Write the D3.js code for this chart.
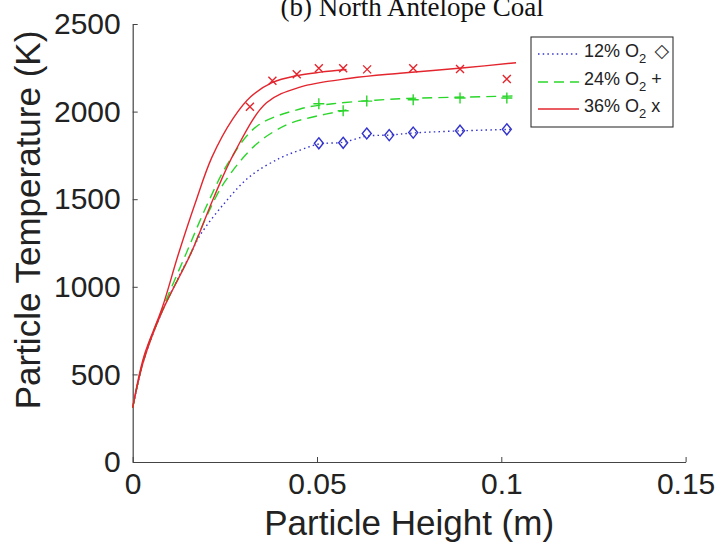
<!DOCTYPE html>
<html><head><meta charset="utf-8">
<script src="https://cdn.jsdelivr.net/npm/d3@7"></script>
<style>body{margin:0;background:#fff}svg{display:block}</style>
</head><body>
<svg id="c" width="722" height="546"></svg>
<script>
// ---- data ----
const xTicks = [0, 0.05, 0.1, 0.15];
const xTickLabels = ["0", "0.05", "0.1", "0.15"];
const yTicks = [0, 500, 1000, 1500, 2000, 2500];
const yTickLabels = ["0", "500", "1000", "1500", "2000", "2500"];

// measured points
const pts12x = [0.0505, 0.0571, 0.0635, 0.0696, 0.0761, 0.0888, 0.1015];
const pts12T = [1819, 1822, 1875, 1866, 1880, 1891, 1899];
const pts24x = [0.0505, 0.0571, 0.0635, 0.0761, 0.0888, 0.1015];
const pts24T = [2045, 2005, 2060, 2068, 2078, 2078];
const pts36x = [0.0318, 0.0379, 0.0445, 0.0505, 0.0571, 0.0636, 0.0761, 0.0888, 0.1015];
const pts36T = [2028, 2176, 2213, 2247, 2247, 2241, 2247, 2243, 2186];

// model curves
const c12x = [0, 0.003, 0.008, 0.0155, 0.0183, 0.025, 0.0318, 0.04, 0.0454, 0.0505, 0.0571, 0.0635, 0.0696, 0.0761, 0.0888, 0.1015, 0.103];
const c12T = [310, 580, 860, 1180, 1295, 1480, 1630, 1735, 1780, 1815, 1825, 1860, 1866, 1878, 1890, 1898, 1899];
const c24ax = [0, 0.003, 0.008, 0.0145, 0.02, 0.026, 0.0336, 0.0454, 0.0543, 0.0725, 0.09, 0.104];
const c24aT = [310, 590, 870, 1190, 1460, 1710, 1915, 2015, 2045, 2073, 2083, 2089];
const c24bx = [0, 0.003, 0.008, 0.0155, 0.02, 0.025, 0.0336, 0.0418, 0.048, 0.058];
const c24bT = [310, 585, 860, 1180, 1400, 1600, 1815, 1925, 1965, 2009];
const c36ax = [0, 0.003, 0.008, 0.0123, 0.017, 0.0215, 0.0272, 0.032, 0.0378, 0.0445, 0.051, 0.058];
const c36aT = [310, 600, 880, 1180, 1480, 1740, 1960, 2085, 2165, 2205, 2225, 2240];
const c36bx = [0, 0.003, 0.008, 0.016, 0.022, 0.0277, 0.0363, 0.0454, 0.059, 0.0725, 0.09, 0.104];
const c36bT = [310, 580, 860, 1200, 1510, 1770, 2050, 2140, 2190, 2219, 2250, 2279];

const legendLabels = ["12% O", "24% O", "36% O"];
const legendSymbols = ["\u25C7", "+", "x"];

// ---- drawing ----
const RED = "#e3262e", GREEN = "#2bd62b", BLUE = "#3434cc";
const svg = d3.select("#c");
const L = 132.7, R = 685.6, T = 24, B = 462;
const x = d3.scaleLinear().domain([0, 0.15]).range([L, R]);
const y = d3.scaleLinear().domain([0, 2500]).range([B, T]);

const zip = (a, b) => a.map((v, i) => [v, b[i]]);
const line = d3.line().x(d => x(d[0])).y(d => y(d[1])).curve(d3.curveCatmullRom.alpha(0.5));

// axes
const xAxis = d3.axisBottom(x).tickValues(xTicks).tickFormat((d, i) => xTickLabels[i]).tickSizeInner(-5).tickSizeOuter(0).tickPadding(11);
const yAxis = d3.axisLeft(y).tickValues(yTicks).tickFormat((d, i) => yTickLabels[i]).tickSizeInner(-5).tickSizeOuter(0).tickPadding(12);
const gx = svg.append("g").attr("transform", `translate(0,${B})`).call(xAxis);
const gy = svg.append("g").attr("transform", `translate(${L},0)`).call(yAxis);
[gx, gy].forEach(g => {
  g.select(".domain").attr("stroke", "#444").attr("stroke-width", 1.2);
  g.selectAll(".tick line").attr("stroke", "#444").attr("stroke-width", 1);
  g.selectAll(".tick text").attr("fill", "#222").style("font-family", "'Liberation Sans', Arial, sans-serif").style("font-size", "30px");
});
gx.selectAll(".tick text").attr("dy", "0.71em");

// curves
const curves = [
  {d: zip(c12x, c12T), c: BLUE, dash: "1.5,3.2"},
  {d: zip(c24ax, c24aT), c: GREEN, dash: "10,6"},
  {d: zip(c24bx, c24bT), c: GREEN, dash: "10,6"},
  {d: zip(c36ax, c36aT), c: RED, dash: null},
  {d: zip(c36bx, c36bT), c: RED, dash: null}
];
svg.append("g").selectAll("path").data(curves).join("path")
  .attr("d", d => line(d.d)).attr("fill", "none").attr("stroke", d => d.c)
  .attr("stroke-width", 1.4).attr("stroke-dasharray", d => d.dash);

// markers
const mk = svg.append("g").attr("fill", "none").attr("stroke-width", 1.4);
mk.selectAll(".dia").data(zip(pts12x, pts12T)).join("path")
  .attr("d", d => { const cx = x(d[0]), cy = y(d[1]); return `M${cx},${cy-5.5}L${cx+4.5},${cy}L${cx},${cy+5.5}L${cx-4.5},${cy}Z`; })
  .attr("stroke", BLUE);
mk.selectAll(".plus").data(zip(pts24x, pts24T)).join("path")
  .attr("d", d => { const cx = x(d[0]), cy = y(d[1]); return `M${cx-5.5},${cy}H${cx+5.5}M${cx},${cy-5.5}V${cy+5.5}`; })
  .attr("stroke", GREEN);
mk.selectAll(".cross").data(zip(pts36x, pts36T)).join("path")
  .attr("d", d => { const cx = x(d[0]), cy = y(d[1]); return `M${cx-4},${cy-4}L${cx+4},${cy+4}M${cx-4},${cy+4}L${cx+4},${cy-4}`; })
  .attr("stroke", RED);

// axis labels
svg.append("text").attr("x", (L + R) / 2).attr("y", 535).attr("text-anchor", "middle")
  .style("font-family", "'Liberation Sans', Arial, sans-serif").style("font-size", "35px").attr("fill", "#222")
  .text("Particle Height (m)");
svg.append("text").attr("transform", `translate(40,220) rotate(-90)`).attr("text-anchor", "middle")
  .style("font-family", "'Liberation Sans', Arial, sans-serif").style("font-size", "35px").attr("fill", "#222")
  .text("Particle Temperature (K)");
// title
svg.append("text").attr("x", (L + R) / 2 + 3).attr("y", 16).attr("text-anchor", "middle")
  .style("font-family", "'Liberation Serif', 'Times New Roman', serif").style("font-size", "27px").attr("fill", "#111")
  .text("(b) North Antelope Coal");

// legend
const lg = svg.append("g");
lg.append("rect").attr("x", 531).attr("y", 37).attr("width", 142).attr("height", 90)
  .attr("fill", "#fff").attr("stroke", "#333").attr("stroke-width", 1.1);
const rowsY = [54, 82, 109];
const styles = [{c: BLUE, dash: "1.5,3.2"}, {c: GREEN, dash: "10,6"}, {c: RED, dash: null}];
legendLabels.forEach((lab, i) => {
  lg.append("line").attr("x1", 538).attr("x2", 579).attr("y1", rowsY[i]).attr("y2", rowsY[i])
    .attr("stroke", styles[i].c).attr("stroke-width", 1.4).attr("stroke-dasharray", styles[i].dash);
  const t = lg.append("text").attr("x", 584).attr("y", rowsY[i] + 3)
    .style("font-family", "'Liberation Sans', Arial, sans-serif").style("font-size", "18px").attr("fill", "#222");
  t.append("tspan").text(lab);
  t.append("tspan").attr("dy", 6).style("font-size", "13px").text("2");
  t.append("tspan").attr("dy", -6).text("\u00A0" + (i === 0 ? "" : legendSymbols[i]));
  if (i === 0) {
    lg.append("text").attr("x", 669).attr("y", rowsY[i] + 3).attr("text-anchor", "end")
      .style("font-family", "'DejaVu Sans', sans-serif").style("font-size", "19px").attr("fill", "#333")
      .text(legendSymbols[0]);
  }
});
</script>
</body></html>
